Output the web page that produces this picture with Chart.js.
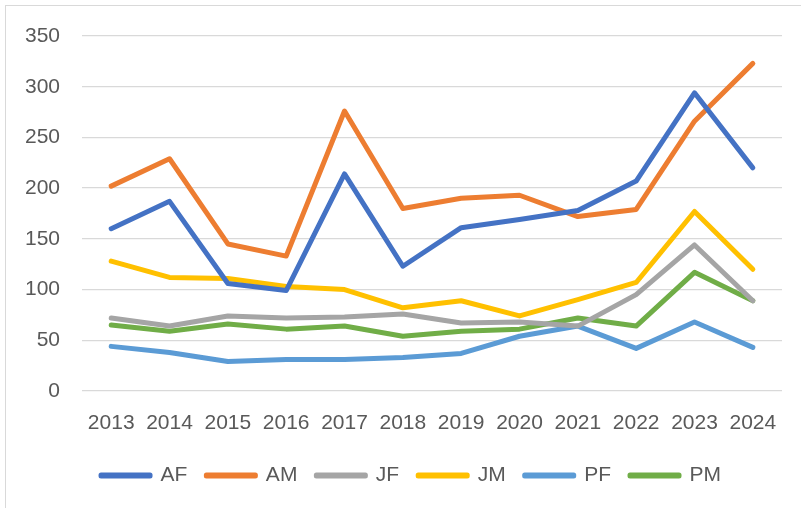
<!DOCTYPE html>
<html>
<head>
<meta charset="utf-8">
<script src="https://cdn.jsdelivr.net/npm/chart.js@4"></script>
<style>
    body { margin: 0; background: #fff; overflow: hidden; }
    #frame { position: absolute; left: 5px; top: 5px; width: 820px; height: 520px; border: 1.5px solid #d9d9d9; }
    #wrap { position: absolute; left: 0; top: 0; width: 801px; height: 508px; }
</style>
</head>
<body>
<div id="frame"></div>
<div id="wrap"><canvas id="chart"></canvas></div>
<script>
const years = ["2013", "2014", "2015", "2016", "2017", "2018", "2019", "2020", "2021", "2022", "2023", "2024"];

const AF = [160, 187, 106, 99, 214, 123, 161, 169, 178, 207, 294, 220];
const AM = [202, 229, 145, 133, 276, 180, 190, 193, 172, 179, 266, 323];
const JF = [72, 64, 74, 72, 73, 76, 67, 68, 64, 95, 144, 89];
const JM = [128, 112, 111, 103, 100, 82, 89, 74, 90, 107, 177, 120];
const PF = [44, 38, 29, 31, 31, 33, 37, 54, 64, 42, 68, 43];
const PM = [65, 59, 66, 61, 64, 54, 59, 61, 72, 64, 117, 89];

const yTicks = [0, 50, 100, 150, 200, 250, 300, 350];

const FONT = "'Liberation Sans', Arial, sans-serif";

function series(label, data, color) {
    return {
        label: label,
        data: data,
        borderColor: color,
        backgroundColor: color,
        borderWidth: 5,
        borderJoinStyle: "round",
        borderCapStyle: "round",
        pointRadius: 0,
        tension: 0
    };
}

const ctx = document.getElementById("chart").getContext("2d");
new Chart(ctx, {
    type: "line",
    data: {
        labels: years,
        datasets: [
            series("AF", AF, "#4472C4"),
            series("AM", AM, "#ED7D31"),
            series("JF", JF, "#A5A5A5"),
            series("JM", JM, "#FFC000"),
            series("PF", PF, "#5B9BD5"),
            series("PM", PM, "#70AD47")
        ]
    },
    options: {
        responsive: true,
        maintainAspectRatio: false,
        animation: false,
        layout: { padding: { left: 3, right: 19, top: 36, bottom: 12 } },
        scales: {
            x: {
                offset: true,
                grid: { display: false, drawTicks: false },
                border: { display: false },
                // fixed height so the legend sits where it does in the original
                afterFit: (axis) => { axis.height = 55; },
                ticks: {
                    color: "#595959",
                    padding: 20,
                    maxRotation: 0,
                    font: { size: 21, family: FONT }
                }
            },
            y: {
                min: 0,
                max: 350,
                afterBuildTicks: (axis) => {
                    axis.ticks = yTicks.map(v => ({ value: v }));
                },
                grid: { color: "#d9d9d9", lineWidth: 1.3, drawTicks: false },
                border: { display: false },
                ticks: {
                    color: "#595959",
                    padding: 22,
                    font: { size: 21, family: FONT }
                }
            }
        },
        plugins: {
            legend: {
                position: "bottom",
                fullSize: false,
                align: "start",
                labels: {
                    color: "#595959",
                    boxWidth: 49,
                    boxHeight: 1,
                    padding: 19,
                    font: { size: 21, family: FONT }
                }
            },
            tooltip: { enabled: false }
        }
    }
});
</script>
</body>
</html>
